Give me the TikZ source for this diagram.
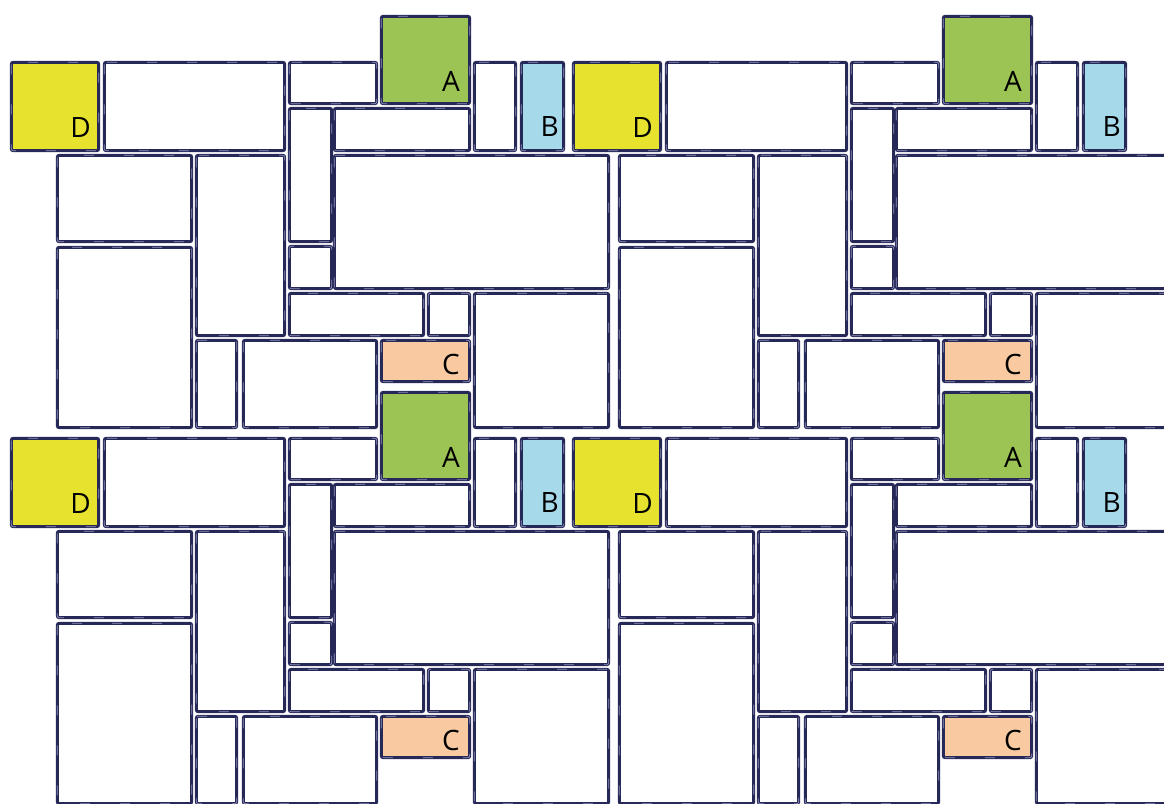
\documentclass[tikz,border=0pt]{standalone}
\usepackage{fontspec}
\setsansfont{Open Sans}
\usetikzlibrary{positioning}
\definecolor{ink}{HTML}{262858}
\definecolor{seam}{HTML}{9092B8}
\definecolor{tileA}{HTML}{9BC455}
\definecolor{tileB}{HTML}{A6DAEB}
\definecolor{tileC}{HTML}{F9C9A1}
\definecolor{tileD}{HTML}{E6E22E}
\tikzset{
  slab/.style={rounded corners=2pt, draw=ink, fill=white, line width=3pt,
               postaction={draw=seam, line width=0.7pt, dash pattern=on 10pt off 30pt}},
  tag/.style={font=\sffamily\fontsize{28}{28}\selectfont, inner sep=0pt,
              anchor=base east, text=black},
}
\begin{document}
\begin{tikzpicture}[x=1pt, y=-1pt]
  \useasboundingbox (0,0) rectangle (1164,803);
  \clip (0,0) rectangle (1164,803);
  % one repeat of the pattern, laid four times
  \foreach \dx/\dy/\k in {0/0/1, 562/0/2, 0/376/3, 562/376/4}{
    \begin{scope}[shift={(\dx,\dy)}]
      % plain slabs
      \foreach \xa/\ya/\xb/\yb in {103/61/286/152, 288/61/378/105, 288/107/333/243,
          333/107/471/152, 473/61/517/152, 56/154/193/243, 195/154/286/337,
          56/246/193/429, 288/245/333/290, 333/154/610/290, 288/292/425/337,
          427/292/471/337, 195/339/238/429, 242/339/378/429, 473/292/610/429}
        \path[slab] (\xa+1.3,\ya+1.3) rectangle (\xb-1.3,\yb-1.3);
      % coloured slabs
      \path[slab, fill=tileD] (11.3,62.3) rectangle (98.7,150.7);
      \path[slab, fill=tileA] (381.3,16.3) rectangle (469.7,103.7);
      \path[slab, fill=tileB] (521.3,62.3) rectangle (563.7,150.7);
      \path[slab, fill=tileC] (381.3,340.3) rectangle (469.7,381.7);
      \node[tag] (D\k) at (91,137) {D};
      \node[tag] (A\k) at (460,91) {A};
      \node[tag] (B\k) at (559,136) {B};
      \node[tag] (C\k) at (460,374) {C};
    \end{scope}
  }
\end{tikzpicture}
\end{document}
